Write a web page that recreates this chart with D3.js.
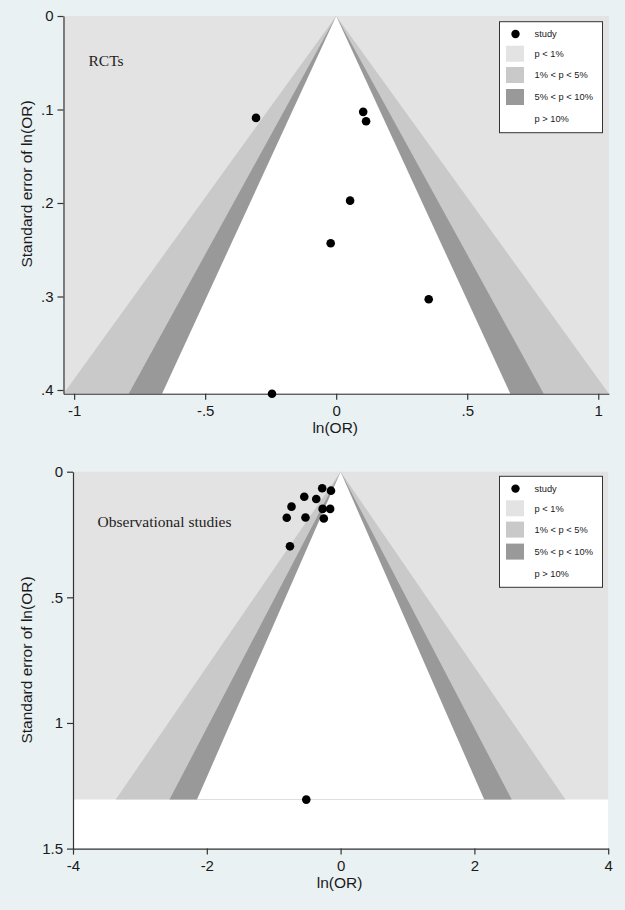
<!DOCTYPE html>
<html>
<head>
<meta charset="utf-8">
<script src="https://cdn.jsdelivr.net/npm/d3@7"></script>
<style>
  html, body { margin: 0; padding: 0; background: #e9f1f3; }
  svg { display: block; }
</style>
</head>
<body>
<svg id="chart" width="625" height="910"></svg>
<script>
// ---- Data ----
const rctLnOR = [-0.306, 0.103, 0.114, 0.053, -0.021, 0.353, -0.245];
const rctSE   = [0.109, 0.1025, 0.1125, 0.1975, 0.243, 0.303, 0.404];

const obsLnOR = [-0.275, -0.144, -0.543, -0.364, -0.734, -0.269, -0.156, -0.805, -0.525, -0.251, -0.757, -0.513];
const obsSE   = [0.066, 0.0755, 0.0994, 0.1085, 0.139, 0.148, 0.148, 0.183, 0.182, 0.186, 0.297, 1.305];

const rctXTicks = [-1, -0.5, 0, 0.5, 1];
const rctYTicks = [0, 0.1, 0.2, 0.3, 0.4];
const obsXTicks = [-4, -2, 0, 2, 4];
const obsYTicks = [0, 0.5, 1, 1.5];

const legendLabels = ["study", "p < 1%", "1% < p < 5%", "5% < p < 10%", "p > 10%"];
const zCrit = [2.5758, 1.96, 1.6449];   // 1%, 5%, 10% two-sided
const bandColors = ["#c9c9c9", "#999999", "#ffffff"];
const outerColor = "#e3e3e3";

const svg = d3.select("#chart");

function fmt(v) {
  let s = String(+v.toFixed(4));
  s = s.replace(/^0\./, ".").replace(/^-0\./, "-.");
  return s;
}

function funnel(cfg) {
  const { lnor, se, xDomain, xRange, yDomain, yRange, xTicks, yTicks, title, titlePos, legendTop, yTitleY } = cfg;
  const x = d3.scaleLinear().domain(xDomain).range(xRange);
  const y = d3.scaleLinear().domain(yDomain).range(yRange);
  const maxSE = d3.max(se);
  const g = svg.append("g");

  // p < 1% region (background of funnel area)
  g.append("rect")
    .attr("x", x(xDomain[0])).attr("y", y(0))
    .attr("width", x(xDomain[1]) - x(xDomain[0]))
    .attr("height", y(maxSE) - y(0))
    .attr("fill", outerColor);
  // white region below max SE (plot bg)
  if (yDomain[1] > maxSE) {
    g.append("rect")
      .attr("x", x(xDomain[0])).attr("y", y(maxSE))
      .attr("width", x(xDomain[1]) - x(xDomain[0]))
      .attr("height", y(yDomain[1]) - y(maxSE))
      .attr("fill", "#ffffff");
  }
  // contour triangles
  zCrit.forEach((z, i) => {
    const pts = [[0, 0], [-z * maxSE, maxSE], [z * maxSE, maxSE]];
    g.append("path")
      .attr("d", d3.line().x(d => x(d[0])).y(d => y(d[1]))(pts) + "Z")
      .attr("fill", bandColors[i]);
  });

  // axes
  const xAxis = d3.axisBottom(x).tickValues(xTicks).tickFormat(fmt).tickSize(6).tickSizeOuter(0).tickPadding(6);
  const yAxis = d3.axisLeft(y).tickValues(yTicks).tickFormat(fmt).tickSize(6).tickSizeOuter(0).tickPadding(4);
  const gx = g.append("g").attr("transform", `translate(0,${y(yDomain[1])})`).call(xAxis);
  const gy = g.append("g").attr("transform", `translate(${x(xDomain[0])},0)`).call(yAxis);
  [gx, gy].forEach(a => {
    a.selectAll("path, line").attr("stroke", "#333").attr("stroke-width", 1.2);
    a.selectAll("text").attr("font-family", "Liberation Sans, Arial, sans-serif").attr("font-size", "15px").attr("fill", "#1a1a1a");
  });

  // axis titles
  g.append("text")
    .attr("x", (xRange[0] + xRange[1]) / 2 - 1)
    .attr("y", y(yDomain[1]) + 39)
    .attr("text-anchor", "middle")
    .attr("font-family", "Liberation Sans, Arial, sans-serif")
    .attr("font-size", "15.5px").attr("fill", "#1a1a1a")
    .text("ln(OR)");
  g.append("text")
    .attr("transform", `translate(32,${yTitleY}) rotate(-90)`)
    .attr("text-anchor", "middle")
    .attr("font-family", "Liberation Sans, Arial, sans-serif")
    .attr("font-size", "15.5px").attr("fill", "#1a1a1a")
    .text("Standard error of ln(OR)");

  // points
  g.selectAll("circle.pt").data(lnor.map((v, i) => [v, se[i]]))
    .enter().append("circle")
    .attr("class", "pt")
    .attr("cx", d => x(d[0])).attr("cy", d => y(d[1]))
    .attr("r", 4.3).attr("fill", "#000");

  // in-plot label
  g.append("text")
    .attr("x", titlePos[0]).attr("y", titlePos[1])
    .attr("font-family", "Liberation Serif, Times New Roman, serif")
    .attr("font-size", "15.5px").attr("fill", "#222")
    .text(title);

  // legend
  const lg = g.append("g").attr("transform", `translate(499.5,${legendTop})`);
  lg.append("rect").attr("x", 0).attr("y", 0).attr("width", 103).attr("height", 111)
    .attr("fill", "#fff").attr("stroke", "#333").attr("stroke-width", 1);
  const rowY = [12.3, 32, 53.3, 75.3, 97.3];
  const swatch = [null, outerColor, bandColors[0], bandColors[1], null];
  legendLabels.forEach((lab, i) => {
    if (i === 0) {
      lg.append("circle").attr("cx", 16).attr("cy", rowY[i]).attr("r", 4.2).attr("fill", "#000");
    } else if (swatch[i]) {
      lg.append("rect").attr("x", 6.5).attr("y", rowY[i] - 8).attr("width", 18).attr("height", 16)
        .attr("fill", swatch[i]);
    }
    lg.append("text").attr("x", 35).attr("y", rowY[i] + 3.4)
      .attr("font-family", "Liberation Sans, Arial, sans-serif")
      .attr("font-size", "9.3px").attr("fill", "#1a1a1a")
      .text(lab);
  });
}

const rctMax = d3.max(rctSE);
const rctX = zCrit[0] * rctMax;
funnel({
  lnor: rctLnOR, se: rctSE,
  xDomain: [-rctX, rctX], xRange: [336.2 - rctX * 262.06, 336.2 + rctX * 262.06],
  yDomain: [0, rctMax], yRange: [16, 16 + rctMax * 935],
  xTicks: rctXTicks, yTicks: rctYTicks,
  title: "RCTs", titlePos: [88.5, 65.7], legendTop: 21.7, yTitleY: 184
});

funnel({
  lnor: obsLnOR, se: obsSE,
  xDomain: [-4, 4], xRange: [73, 608.2],
  yDomain: [0, 1.5], yRange: [471.7, 848.6],
  xTicks: obsXTicks, yTicks: obsYTicks,
  title: "Observational studies", titlePos: [97.6, 527], legendTop: 476.3, yTitleY: 660
});
</script>
</body>
</html>
